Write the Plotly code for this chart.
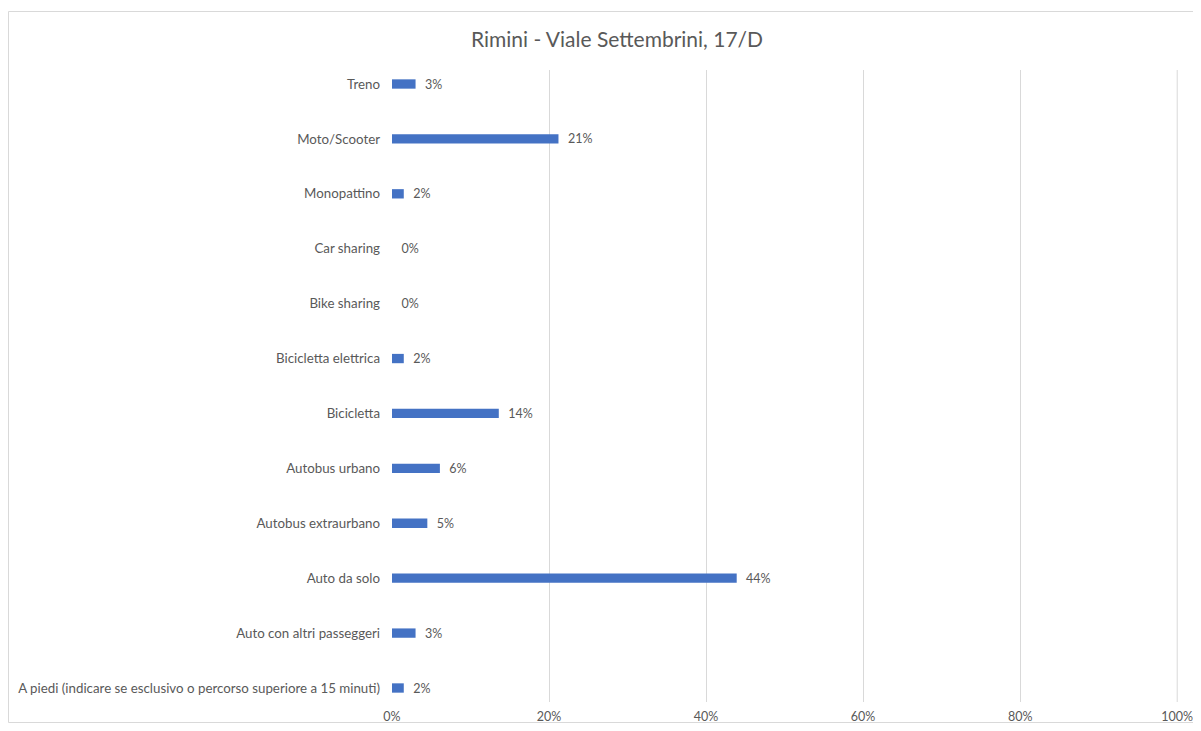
import plotly.graph_objects as go

categories = [
    "A piedi (indicare se esclusivo o percorso superiore a 15 minuti)",
    "Auto con altri passeggeri",
    "Auto da solo",
    "Autobus extraurbano",
    "Autobus urbano",
    "Bicicletta",
    "Bicicletta elettrica",
    "Bike sharing",
    "Car sharing",
    "Monopattino",
    "Moto/Scooter",
    "Treno",
]
values = [1.5, 3.0, 43.9, 4.5, 6.1, 13.6, 1.5, 0.0, 0.0, 1.5, 21.2, 3.0]
x_ticks = [0, 20, 40, 60, 80, 100]
x_tick_labels = ["0%", "20%", "40%", "60%", "80%", "100%"]
title = "Rimini - Viale Settembrini, 17/D"

labels = ["  %d%%" % int(v + 0.5) for v in values]

FONT = "Lato, 'Open Sans', sans-serif"
GREY = "#595959"
GRID = "#d9d9d9"

# page body has an 8px margin: figure coordinates = window coordinates - 8
OFF = 8
W, H = 1201 - 2 * OFF, 731 - 2 * OFF
L = 392 - OFF
R = W - (1178 - OFF)
T = 70 - OFF
B = H - (702 - OFF)
pw = W - L - R
ph = H - T - B


def px_x(p):
    return (p - L) / pw


def px_y(p):
    return (H - B - p) / ph


fig = go.Figure(go.Bar(
    x=values, y=categories, orientation="h",
    marker=dict(color="#4472C4", line=dict(width=0)),
    width=0.17,
    text=labels, textposition="outside", cliponaxis=False,
    constraintext="none",
    textfont=dict(family=FONT, size=12.5, color=GREY),
))

fig.update_layout(
    width=W, height=H,
    margin=dict(l=L, r=R, t=T, b=B, autoexpand=False),
    paper_bgcolor="white", plot_bgcolor="white",
    showlegend=False,
    title=dict(text=title, x=(617 - OFF) / W, xanchor="center",
               y=1 - (40 - OFF) / H, yanchor="middle",
               font=dict(family=FONT, size=21, color=GREY)),
    xaxis=dict(range=[0, 100.1], tickvals=x_ticks, ticktext=x_tick_labels,
               showgrid=True, gridcolor=GRID, gridwidth=1,
               zeroline=False, showline=False, ticks="",
               tickfont=dict(family=FONT, size=12.5, color=GREY),
               ticklabelstandoff=5, ticklabeloverflow="allow"),
    yaxis=dict(type="category", categoryorder="array", categoryarray=categories,
               range=[-0.255, 11.255], showgrid=False, zeroline=False,
               showline=False, ticks="",
               tickfont=dict(family=FONT, size=13.3, color=GREY),
               ticklabelstandoff=11),
    bargap=0.83,
    shapes=[
        dict(type="rect", xref="paper", yref="paper",
             x0=px_x(0.5), x1=px_x(W + 20), y0=px_y(H - 0.5), y1=px_y(11.5 - OFF),
             line=dict(color=GRID, width=1), fillcolor="rgba(0,0,0,0)",
             layer="below"),
        # last gridline (Plotly drops grid lines sitting on the plot edge)
        dict(type="line", xref="x", yref="paper",
             x0=x_ticks[-1], x1=x_ticks[-1], y0=0, y1=1,
             line=dict(color=GRID, width=1), layer="below"),
    ],
)

fig.write_html("out.html")
